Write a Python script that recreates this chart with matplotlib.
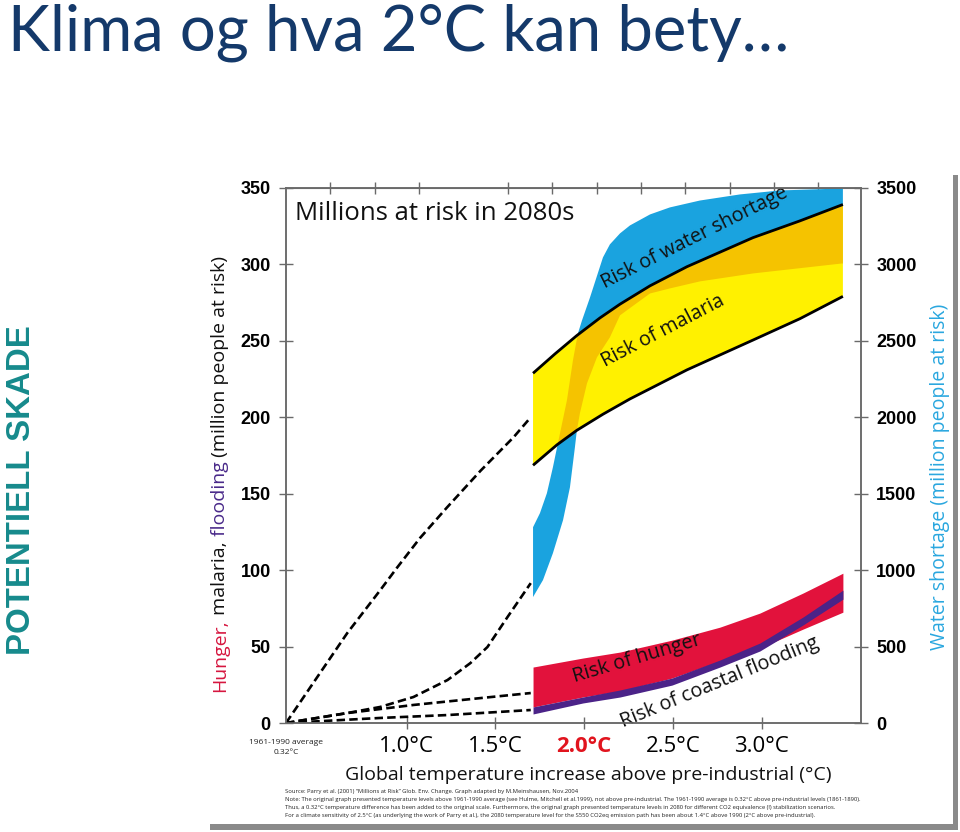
import matplotlib
matplotlib.use("Agg")
from matplotlib import pyplot as plt
from matplotlib.patches import Polygon, Rectangle
import numpy as np

# --- data (temperature in degC above pre-industrial) ---
# water shortage band (right axis, million people)
water_top_T = [1.712, 1.751, 1.790, 1.824, 1.852, 1.864, 1.903, 1.937, 1.965, 1.988,
               2.033, 2.106, 2.145, 2.202, 2.258, 2.371, 2.483, 2.652, 2.878, 3.103, 3.458]
water_top = [1281, 1373, 1503, 1673, 1830, 1895, 2111, 2373, 2549, 2634,
             2784, 3046, 3131, 3203, 3255, 3327, 3373, 3418, 3458, 3484, 3497]
water_low_T = [1.712, 1.768, 1.824, 1.881, 1.920, 1.948, 1.959, 1.976, 2.016, 2.072,
               2.145, 2.202, 2.371, 2.483, 2.652, 2.951, 3.458]
water_low = [824, 935, 1111, 1327, 1542, 1804, 1915, 2026, 2222, 2392,
             2523, 2667, 2810, 2843, 2889, 2941, 3007]

# malaria band (left axis)
malaria_top_T = [1.712, 1.836, 1.959, 2.089, 2.202, 2.371, 2.579, 2.765, 2.951, 3.216, 3.458]
malaria_top = [228.8, 241.5, 253.5, 265.0, 274.0, 286.0, 298.5, 308.0, 317.5, 328.5, 339.2]
malaria_low_T = [1.712, 1.847, 1.959, 2.106, 2.258, 2.579, 2.951, 3.216, 3.458]
malaria_low = [168.6, 182.0, 191.5, 202.0, 212.0, 231.0, 250.5, 264.5, 279.1]

# hunger and coastal flooding bands (left axis)
band_T = [1.712, 1.993, 2.202, 2.495, 2.765, 2.990, 3.233, 3.458]
hunger_top = [36.6, 42.5, 46.4, 54.2, 62.7, 71.9, 85.0, 98.0]
hunger_low = [10.5, 17.0, 20.9, 29.4, 40.5, 49.0, 61.4, 72.5]
flood_low = [5.9, 13.1, 17.0, 24.8, 36.6, 47.1, 64.1, 81.0]
flood_top = [10.5, 17.0, 21.6, 29.4, 41.2, 52.3, 69.3, 86.9]

# dashed lead-in curves from the 1961-1990 baseline
dash_malaria_T = [0.32, 0.473, 0.665, 0.851, 0.945, 1.075, 1.227, 1.416, 1.602, 1.699]
dash_malaria = [0, 26.1, 58.8, 86.9, 101.5, 121.0, 141.0, 165.0, 186.9, 200.0]
dash_water_T = [0.32, 0.665, 0.851, 1.038, 1.230, 1.359, 1.455, 1.568, 1.699]
dash_water = [0, 65, 105, 170, 281, 392, 497, 693, 915]
dash_hunger_T = [0.32, 0.665, 1.038, 1.416, 1.699]
dash_hunger = [0, 6.5, 11.8, 16.3, 19.6]
dash_flood_T = [0.32, 0.851, 1.230, 1.699]
dash_flood = [0, 3.3, 5.2, 8.5]

x_ticks = [1.0, 1.5, 2.0, 2.5, 3.0]
x_tick_labels = ["1.0°C", "1.5°C", "2.0°C", "2.5°C", "3.0°C"]
top_ticks = [0.25, 0.5, 0.75, 1.25, 1.5, 1.75, 2.0, 2.25, 2.5, 2.75, 3.0]
left_ticks = list(range(0, 351, 50))
right_ticks = list(range(0, 3501, 500))

notes = [
    "Source: Parry et al. (2001) \u201cMillions at Risk\u201d Glob. Env. Change. Graph adapted by M.Meinshausen, Nov.2004",
    "Note: The original graph presented temperature levels above 1961-1990 average (see Hulme, Mitchell et al.1999), not above pre-industrial. The 1961-1990 average is 0.32°C above pre-industrial levels (1861-1890).",
    "Thus, a 0.32°C temperature difference has been added to the original scale. Furthermore, the original graph presented temperature levels in 2080 for different CO2 equivalence (!) stabilization scenarios.",
    "For a climate sensitivity of 2.5°C (as underlying the work of Parry et al.), the 2080 temperature level for the S550 CO2eq emission path has been about 1.4°C above 1990 (2°C above pre-industrial).",
]

BLUE = "#1AA3DF"
YELLOW = "#FFF100"
ORANGE = "#F5C300"
RED = "#E2123C"
PURPLE = "#4B2388"
NAVY = "#14396A"
TEAL = "#168A8C"
GREY = "#6a6a6a"
SANS = ["Open Sans", "DejaVu Sans"]
ARIAL = ["Liberation Sans", "DejaVu Sans"]

W, H = 960, 832
fig = plt.figure(figsize=(W / 100, H / 100), dpi=100)


def fx(x):
    return x / W


def fy(y):
    return 1 - y / H


def fit(t, width_px, vertical=False):
    r = fig.canvas.get_renderer()
    bb = t.get_window_extent(r)
    cur = bb.height if vertical else bb.width
    t.set_fontsize(t.get_fontsize() * width_px / cur)


def stacked_label(pieces, x, y_mid, length, family):
    # vertical label made of differently coloured pieces, read bottom to top
    r = fig.canvas.get_renderer()
    probe = fig.text(0, 0, "".join(s for s, _ in pieces), rotation=90,
                     fontsize=14, family=family)
    size = 14 * length / probe.get_window_extent(r).height
    probe.remove()
    y = H - y_mid - length / 2
    for s, c in pieces:
        t = fig.text(fx(x), y / H, s, rotation=90, rotation_mode="anchor",
                     ha="left", va="center", color=c, fontsize=size, family=family)
        y = t.get_window_extent(r).y1


ax = fig.add_axes([fx(286), fy(723), fx(861 - 286), (723 - 188) / H])
ax.set_xlim(0.32, 3.56)
ax.set_ylim(0, 350)
ax2 = ax.twinx()
ax2.set_ylim(0, 3500)

# water shortage band sits under the malaria band, the overlap shows orange
water_xy = np.column_stack([water_top_T + water_low_T[::-1], water_top + water_low[::-1]])
ax.add_patch(Polygon(water_xy, closed=True, fc=BLUE, ec="none", transform=ax2.transData))
malaria_xy = np.column_stack([malaria_top_T + malaria_low_T[::-1],
                              malaria_top + malaria_low[::-1]])
malaria_patch = Polygon(malaria_xy, closed=True, fc=YELLOW, ec="none")
ax.add_patch(malaria_patch)
overlap = Polygon(water_xy, closed=True, fc=ORANGE, ec="none", transform=ax2.transData)
ax.add_patch(overlap)
overlap.set_clip_path(malaria_patch)
ax.plot(malaria_top_T, malaria_top, color="black", lw=2, solid_capstyle="butt")
ax.plot(malaria_low_T, malaria_low, color="black", lw=2, solid_capstyle="butt")

ax.fill_between(band_T, hunger_low, hunger_top, color=RED, lw=0)
ax.fill_between(band_T, flood_low, flood_top, color=PURPLE, lw=0)

dash = dict(color="black", lw=1.9, linestyle=(0, (3.2, 1.6)))
ax.plot(dash_malaria_T, dash_malaria, **dash)
ax.plot(dash_hunger_T, dash_hunger, **dash)
ax.plot(dash_flood_T, dash_flood, **dash)
ax2.plot(dash_water_T, dash_water, **dash)

lab = dict(rotation_mode="anchor", ha="center", va="center", family=SANS,
           fontsize=14.3, color="#111111")
ax.text(2.62, 317.5, "Risk of water shortage", rotation=26.6, **lab)
ax.text(2.444, 256.2, "Risk of malaria", rotation=27.5, **lab)
ax.text(2.297, 42.5, "Risk of hunger", rotation=16.5, **lab)
ax.text(2.765, 26.5, "Risk of coastal flooding", rotation=22.3, **lab)

# axes styling
for a in (ax, ax2):
    for s in a.spines.values():
        s.set_color(GREY)
        s.set_linewidth(1.1)
ax.set_xticks(x_ticks, labels=x_tick_labels)
ax.tick_params(axis="x", direction="inout", length=9, width=1, color=GREY,
               pad=5, labelsize=16)
for t in ax.get_xticklabels():
    t.set_family(SANS)
ax.get_xticklabels()[2].set_color("#E1141E")
ax.get_xticklabels()[2].set_fontweight("bold")
ax.set_yticks(left_ticks)
ax.tick_params(axis="y", direction="inout", length=10, width=1, color=GREY,
               pad=6, labelsize=13)
ax2.set_yticks(right_ticks)
ax2.tick_params(axis="y", direction="inout", length=10, width=1, color=GREY,
                pad=6, labelsize=13)
for t in ax.get_yticklabels() + ax2.get_yticklabels():
    t.set_family(ARIAL)
    t.set_fontweight("bold")

top = ax.secondary_xaxis("top", functions=(lambda t: t - 0.32, lambda t: t + 0.32))
top.set_xticks(top_ticks, labels=[""] * len(top_ticks))
top.tick_params(direction="inout", length=9, width=1, color=GREY)
top.spines["top"].set_color(GREY)

# texts around the chart
fig.text(fx(295), fy(213), "Millions at risk in 2080s", ha="left", va="center",
         fontsize=18.5, family=SANS, color="#111111")
fig.text(fx(286), fy(742), "1961-1990 average", ha="center", va="center",
         fontsize=6, family=SANS, color="#222222")
fig.text(fx(286), fy(753), "0.32°C", ha="center", va="center",
         fontsize=6, family=SANS, color="#222222")
xl = fig.text(fx(588), fy(775), "Global temperature increase above pre-industrial (°C)",
              ha="center", va="center", fontsize=14, family=SANS, color="#111111")
fit(xl, 487)

stacked_label([("Hunger,", "#D6163F"), (" malaria,", "#111111"),
               (" flooding", "#4A2A8A"), (" (million people at risk)", "#111111")],
              220, 474, 437, SANS)
stacked_label([("Water shortage (million people at risk)", "#2AA7DF")],
              940, 476, 348, SANS)

note_texts = []
for i, line in enumerate(notes):
    note_texts.append(fig.text(fx(285), fy(791 + 8 * i), line, ha="left", va="center",
                               fontsize=4.5, family=SANS, color="#222222"))
fit(note_texts[1], 583)
for t in note_texts:
    t.set_fontsize(note_texts[1].get_fontsize())

title = fig.text(fx(8), fy(50), "Klima og hva 2°C kan bety…", ha="left", va="baseline",
                 fontsize=42, family=["Lato", "DejaVu Sans"], color=NAVY)
fit(title, 782)
side = fig.text(fx(22), fy(490), "POTENTIELL SKADE", rotation=90, ha="center",
                va="center", fontsize=24, family=ARIAL, fontweight="bold", color=TEAL)
fit(side, 330, vertical=True)

# grey drop shadow of the pasted chart
fig.patches.append(Rectangle((fx(953), fy(830)), fx(5), (830 - 175) / H,
                             transform=fig.transFigure, fc="#8a8a8a", ec="none"))
fig.patches.append(Rectangle((fx(210), fy(830)), fx(748), 6 / H,
                             transform=fig.transFigure, fc="#8a8a8a", ec="none"))

fig.savefig("out.png", dpi=100)
